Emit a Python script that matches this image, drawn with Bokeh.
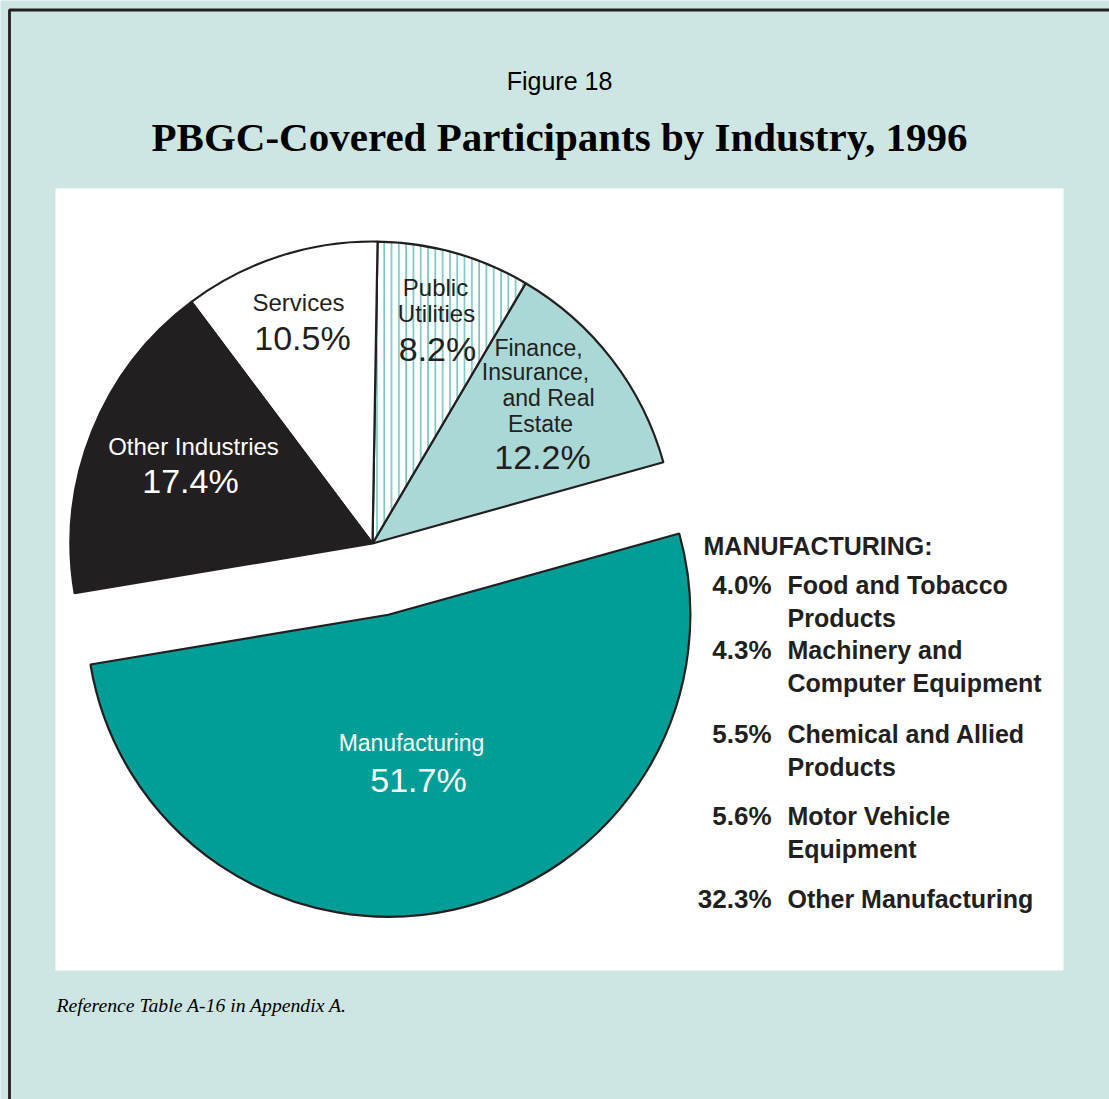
import math
from bokeh.plotting import figure
from bokeh.models import Range1d, BoxAnnotation, ColumnDataSource
from bokeh.core.properties import value
from bokeh.embed import file_html
from bokeh.resources import INLINE

# ---------------- data ----------------
categories = ["Finance, Insurance, and Real Estate", "Public Utilities", "Services",
              "Other Industries", "Manufacturing"]
shares = [12.2, 8.2, 10.5, 17.4, 51.7]

mfg_sub_labels = ["Food and Tobacco Products", "Machinery and Computer Equipment",
                  "Chemical and Allied Products", "Motor Vehicle Equipment",
                  "Other Manufacturing"]
mfg_sub_shares = [4.0, 4.3, 5.5, 5.6, 32.3]

# ---------------- styles / layout ----------------
W, H = 1109, 1099
BG = "#CDE6E3"
INK = "#231F20"
slice_fill = ["#AAD8D6", "#FFFFFF", "#FFFFFF", "#231F20", "#009E96"]
slice_hatch = [" ", "|", " ", " ", " "]
explode = [0, 0, 0, 0, 73]
start_deg = 15.6


def X(sx):
    return sx


def Y(sy):
    return H - sy


cx, cy, R = X(372), Y(543), 302

p = figure(width=W, height=H, x_range=Range1d(0, W), y_range=Range1d(0, H),
           output_backend="svg", toolbar_location=None, min_border=0,
           background_fill_color=BG, border_fill_color=BG, outline_line_color=None)
p.axis.visible = False
p.grid.visible = False

# white panel
p.add_layout(BoxAnnotation(left=X(55), right=X(1063), top=Y(188), bottom=Y(970),
                           fill_color="white", fill_alpha=1, line_color=None, level="underlay"))

# outer frame (left & top edges visible in the crop)
p.line(x=[X(9), X(9), W + 5], y=[-5, Y(9.5), Y(9.5)], line_color=INK, line_width=2.8)

# ---------------- pie ----------------
total = sum(shares)
starts, ends, xs, ys = [], [], [], []
acc = math.radians(start_deg)
for s, e in zip(shares, explode):
    a0 = acc
    a1 = acc + 2 * math.pi * s / total
    mid = (a0 + a1) / 2
    starts.append(a0)
    ends.append(a1)
    xs.append(cx + e * math.cos(mid))
    ys.append(cy + e * math.sin(mid))
    acc = a1

src = ColumnDataSource(dict(x=xs, y=ys, start=starts, end=ends, fill=slice_fill,
                            hatch=slice_hatch, cat=categories))
p.wedge(x="x", y="y", radius=R, start_angle="start", end_angle="end", source=src,
        fill_color="fill", line_color=INK, line_width=2.2,
        hatch_pattern="hatch", hatch_color="#72C6C0", hatch_scale=7.3, hatch_weight=1.6)

FONT = value("Liberation Sans")

# pie labels (name lines + percentage)
pct = [f"{v:.1f}%" for v in shares]
name_lines = [["Finance,", "Insurance,", "and Real", "Estate"],
              ["Public", "Utilities"],
              ["Services"],
              ["Other Industries"],
              ["Manufacturing"]]
name_x = [[538, 535, 548, 540], [435, 436], [298], [193], [411]]
name_y = [[347, 371, 397, 423], [287, 313], [302], [446], [742]]
name_size = ["23px", "24px", "24px", "24px", "23px"]
pct_xy = [(542, 456), (437, 348), (302, 337), (190, 480), (418, 779)]
label_color = [INK, INK, INK, "white", "white"]

for i in range(len(categories)):
    p.text(x=[X(v) for v in name_x[i]], y=[Y(v) for v in name_y[i]], text=name_lines[i],
           text_font=FONT, text_font_size=name_size[i], text_color=label_color[i],
           text_align="center", text_baseline="middle")
    p.text(x=[X(pct_xy[i][0])], y=[Y(pct_xy[i][1])], text=[pct[i]],
           text_font=FONT, text_font_size="34px", text_color=label_color[i],
           text_align="center", text_baseline="middle")

# ---------------- manufacturing breakdown ----------------
p.text(x=[X(703)], y=[Y(545)], text=["MANUFACTURING:"], text_font=FONT,
       text_font_size="25px", text_font_style="bold", text_color=INK,
       text_align="left", text_baseline="middle")

sub_lines = [["Food and Tobacco", "Products"], ["Machinery and", "Computer Equipment"],
             ["Chemical and Allied", "Products"], ["Motor Vehicle", "Equipment"],
             ["Other Manufacturing"]]
sub_y = [584, 649, 733, 815, 898]
line_gap = 33
p.text(x=[X(771)] * len(mfg_sub_shares), y=[Y(v) for v in sub_y],
       text=[f"{v:.1f}%" for v in mfg_sub_shares], text_font=FONT, text_font_size="26px",
       text_font_style="bold", text_color=INK, text_align="right", text_baseline="middle")
for lines, y0 in zip(sub_lines, sub_y):
    p.text(x=[X(787)] * len(lines), y=[Y(y0 + k * line_gap) for k in range(len(lines))],
           text=lines, text_font=FONT, text_font_size="25px", text_font_style="bold",
           text_color=INK, text_align="left", text_baseline="middle")

# ---------------- titles ----------------
p.text(x=[X(559)], y=[Y(80)], text=["Figure 18"], text_font=FONT, text_font_size="25px",
       text_color="black", text_align="center", text_baseline="middle")
p.text(x=[X(559)], y=[Y(136)], text=["PBGC-Covered Participants by Industry, 1996"],
       text_font=value("Liberation Serif"), text_font_size="41px", text_font_style="bold",
       text_color="black", text_align="center", text_baseline="middle")
p.text(x=[X(56)], y=[Y(1004)], text=["Reference Table A-16 in Appendix A."],
       text_font=value("Liberation Serif"), text_font_size="19.7px", text_font_style="italic",
       text_color="black", text_align="left", text_baseline="middle")

open("out.html", "w").write(file_html(p, INLINE))
